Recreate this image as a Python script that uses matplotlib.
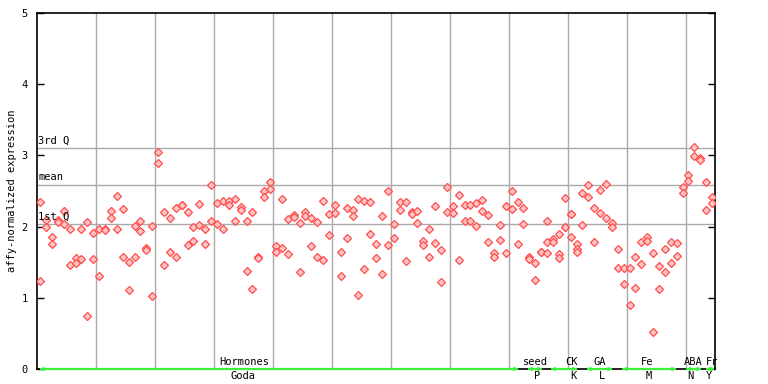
import matplotlib
matplotlib.use('Agg')
import matplotlib.pyplot as plt

# expression values per sample position (replicates)
values = [
    [2.34, 1.23], [2.09, 2.00], [1.85, 1.76], [2.09, 2.06], [2.22, 2.03],
    [1.96, 1.46], [1.56, 1.49], [1.96, 1.54], [2.06, 0.74], [1.91, 1.54],
    [1.96, 1.30], [1.96, 1.95], [2.22, 2.12], [2.43, 1.96], [2.25, 1.58],
    [1.50, 1.11], [2.01, 1.58], [2.08, 1.94], [1.70, 1.67], [2.01, 1.02],
    [3.05, 2.89], [2.20, 1.46], [2.12, 1.64], [2.26, 1.58], [2.31, 2.30],
    [2.20, 1.74], [1.99, 1.80], [2.32, 2.02], [1.96, 1.75], [2.58, 2.08],
    [2.33, 2.03], [2.36, 1.96], [2.36, 2.30], [2.39, 2.08], [2.27, 2.23],
    [2.08, 1.37], [2.20, 1.12], [1.57, 1.56], [2.50, 2.41], [2.63, 2.53],
    [1.73, 1.64], [2.39, 1.70], [2.10, 1.61], [2.16, 2.13], [2.05, 1.36],
    [2.20, 2.15], [2.12, 1.73], [2.06, 1.58], [2.36, 1.53], [2.18, 1.88],
    [2.30, 2.19], [1.64, 1.30], [2.26, 1.84], [2.23, 2.15], [2.39, 1.04],
    [2.36, 1.40], [2.34, 1.89], [1.75, 1.56], [2.15, 1.33], [2.50, 1.74],
    [2.03, 1.84], [2.34, 2.23], [2.34, 1.51], [2.20, 2.18], [2.22, 2.05],
    [1.80, 1.74], [1.96, 1.58], [2.29, 1.77], [1.67, 1.22], [2.56, 2.20],
    [2.29, 2.19], [2.44, 1.53], [2.30, 2.08], [2.30, 2.08], [2.33, 2.01],
    [2.37, 2.22], [2.16, 1.78], [1.63, 1.58], [2.02, 1.81], [2.29, 1.63],
    [2.50, 2.25], [2.34, 1.75], [2.26, 2.03], [1.58, 1.54], [1.49, 1.25],
    [1.65, 1.65], [2.08, 1.79, 1.63], [1.82, 1.79], [1.89, 1.61, 1.56],
    [2.40, 2.00, 1.99], [2.18, 2.17, 1.85], [1.75, 1.69, 1.65],
    [2.47, 2.02], [2.58, 2.41], [2.26, 1.79], [2.52, 2.19], [2.60, 2.12],
    [2.05, 1.99], [1.68, 1.42], [1.42, 1.20], [1.42, 0.90], [1.57, 1.14],
    [1.78, 1.47], [1.85, 1.80], [1.63, 0.52], [1.45, 1.12], [1.68, 1.36],
    [1.79, 1.49], [1.77, 1.59], [2.56, 2.47], [2.72, 2.64], [3.12, 2.99],
    [2.96, 2.93], [2.62, 2.24], [2.41, 2.33],
]

q1_value = 2.04
mean_value = 2.59
q3_value = 3.11
ref_labels = ['1st Q', 'mean', '3rd Q']
yticks = [0, 1, 2, 3, 4, 5]

groups = ['Hormones', 'seed', 'CK', 'GA', 'Fe', 'ABA', 'Fr']
subgroups = ['Goda', 'P', 'K', 'L', 'M', 'N', 'Y']
group_spans = [(0.4, 81.6), (83.2, 85.7), (87.2, 91.6), (93.2, 97.6),
               (99.3, 108.4), (110.1, 112.7), (113.5, 114.9)]
group_label_x = [35.2, 84.6, 90.6, 95.5, 103.5, 111.3, 114.5]
sub_label_x = [34.9, 84.9, 91.0, 95.9, 103.8, 110.9, 114.0]

MONO = 'DejaVu Sans Mono'
FS = 7.5
GRID = '#aaaaaa'
GREEN = '#3cf03c'
RED = '#ff4d4d'

fig = plt.figure(figsize=(7.68, 3.84), dpi=100)
ax = fig.add_axes([37.3 / 768, 15 / 384, (715 - 37.3) / 768, (369 - 13) / 384])
ax.set_xlim(0, 115)
ax.set_ylim(0, 5)

# vertical grid
for gx in range(10, 115, 10):
    ax.axvline(gx, color=GRID, lw=1.0, zorder=1)

# reference lines
for val, lab in zip([q1_value, mean_value, q3_value], ref_labels):
    ax.axhline(val, color=GRID, lw=1.0, zorder=1)
    ax.text(0.15, val + 0.03, lab, family=MONO, fontsize=FS, ha='left',
            va='bottom', zorder=4)

# points
xs, ys = [], []
for i, col in enumerate(values):
    for v in col:
        xs.append(i + 0.5)
        ys.append(v)
ax.plot(xs, ys, linestyle='none', marker='D', markersize=4.2,
        markerfacecolor='#ffc4c4', markeredgecolor=RED, markeredgewidth=0.9,
        zorder=3)

# group bars
for (s, e), g, gx, sg, sx in zip(group_spans, groups, group_label_x,
                                   subgroups, sub_label_x):
    ax.plot([s, e], [0, 0], color=GREEN, lw=1.6, solid_capstyle='butt',
            zorder=5, clip_on=False)
    ax.annotate('', xy=(s, 0), xytext=(s + 0.9, 0),
                arrowprops=dict(arrowstyle='->', color=GREEN, lw=1.0,
                                shrinkA=0, shrinkB=0, mutation_scale=5),
                annotation_clip=False, zorder=6)
    ax.annotate('', xy=(e, 0), xytext=(e - 0.9, 0),
                arrowprops=dict(arrowstyle='->', color=GREEN, lw=1.0,
                                shrinkA=0, shrinkB=0, mutation_scale=5),
                annotation_clip=False, zorder=6)
    ax.text(gx, 0.05, g, family=MONO, fontsize=FS, ha='center',
            va='baseline', clip_on=False, zorder=6)
    ax.text(sx, -0.14, sg, family=MONO, fontsize=FS, ha='center',
            va='baseline', clip_on=False)

for sp in ax.spines.values():
    sp.set_color('black')
    sp.set_linewidth(1.2)

ax.set_yticks(yticks)
ax.set_yticklabels([str(t) for t in yticks], family=MONO, fontsize=FS)
ax.tick_params(axis='y', direction='in', length=5, width=1, left=True,
               right=True, labelright=False, pad=7)
ax.tick_params(axis='x', bottom=False, labelbottom=False)

fig.text(12 / 768, 1 - 191 / 384, 'affy-normalized expression', family=MONO,
         fontsize=FS, rotation=90, ha='center', va='center')

fig.savefig('out.png', dpi=100, facecolor='white')
